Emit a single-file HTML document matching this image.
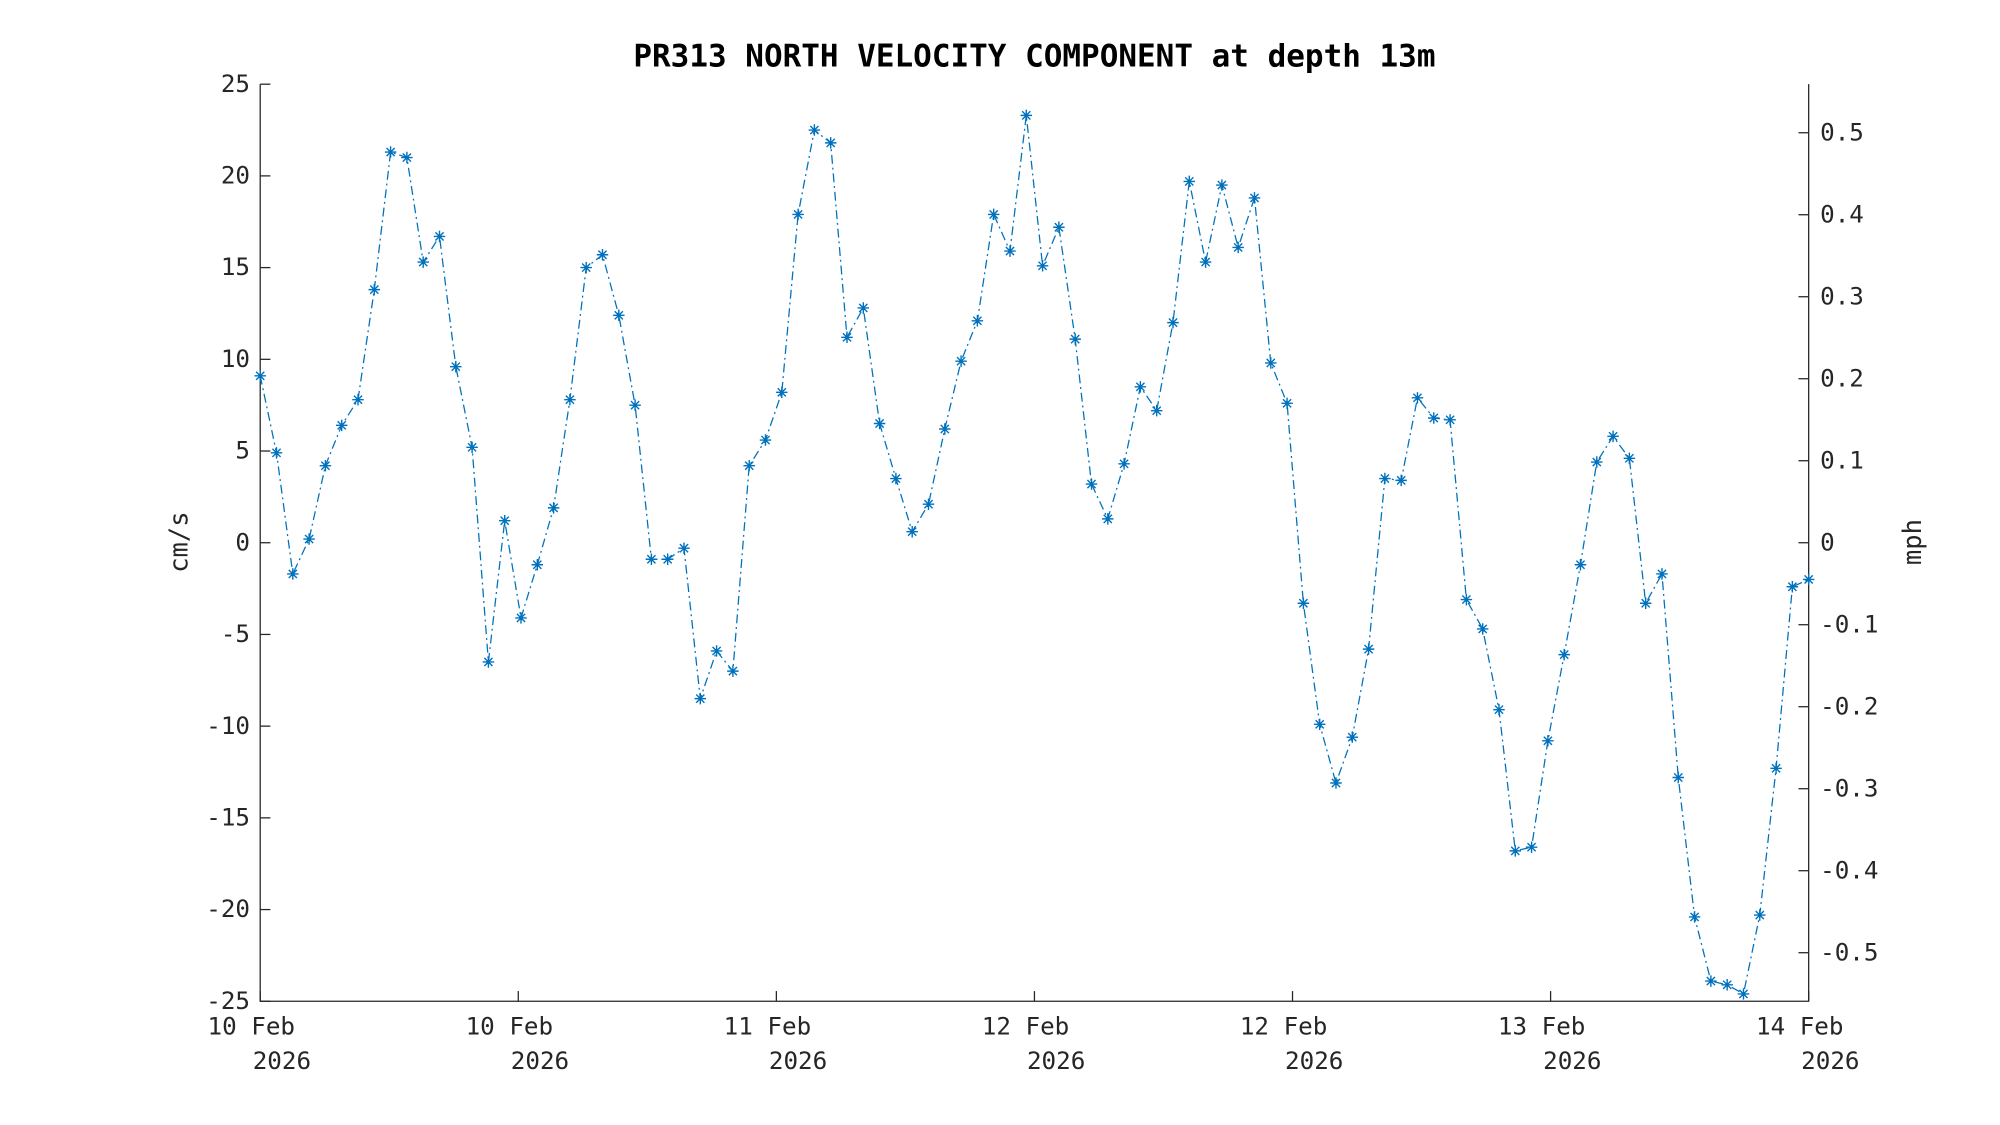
<!DOCTYPE html>
<html><head><meta charset="utf-8"><style>html,body{margin:0;padding:0;background:#fff}svg{display:block}</style></head>
<body>
<svg id="s" width="2000" height="1125" viewBox="0 0 1568 882" xmlns="http://www.w3.org/2000/svg" font-family="'DejaVu Sans Mono','Liberation Mono',monospace">
<rect width="1568" height="882" fill="#fff"/>
<text x="811" y="52" text-anchor="middle" font-size="24.3" font-weight="bold" fill="#000">PR313 NORTH VELOCITY COMPONENT at depth 13m</text>
<g id="ax" stroke="#262626" stroke-width="1" fill="none"></g>
<g id="lbl" font-size="19" fill="#262626"></g>
<text transform="translate(147,425) rotate(-90)" text-anchor="middle" font-size="20" fill="#262626">cm/s</text>
<text transform="translate(1506,425) rotate(-90)" text-anchor="middle" font-size="20" fill="#262626">mph</text>
<g id="data"></g>
</svg>
<script>
var NS="http://www.w3.org/2000/svg";
function el(p,t,a,txt){var e=document.createElementNS(NS,t);for(var k in a)e.setAttribute(k,a[k]);if(txt!=null)e.textContent=txt;document.getElementById(p).appendChild(e);return e;}
var L=204,R=1418,T=66,B=785;
function Y(v){return T+(25-v)/50*(B-T);}
el("ax","path",{d:"M"+L+","+T+"V"+B+"H"+R+"V"+T});
for(var v=-25;v<=25;v+=5){var y=Y(v);el("ax","path",{d:"M"+L+","+y+"h8"});
el("lbl","text",{x:196,y:y+6,"text-anchor":"end"},String(v));}
for(var k=-5;k<=5;k++){var y=Y(k*0.1/0.022369);el("ax","path",{d:"M"+R+","+y+"h-8"});
var s=k==0?"0":(k<0?"-":"")+"0."+Math.abs(k);el("lbl","text",{x:1427,y:y+6},s);}
var days=["10 Feb","10 Feb","11 Feb","12 Feb","12 Feb","13 Feb","14 Feb"];
for(var i=0;i<7;i++){var x=L+(R-L)*i/6;el("ax","path",{d:"M"+x+","+B+"v-8"});
el("lbl","text",{x:x-7,y:811,"text-anchor":"middle"},days[i]);
el("lbl","text",{x:x+17,y:838,"text-anchor":"middle"},"2026");}
var d=[9.1,4.9,-1.7,0.2,4.2,6.4,7.8,13.8,21.3,21.0,15.3,16.7,9.6,5.2,-6.5,1.2,-4.1,-1.2,1.9,7.8,15.0,15.7,12.4,7.5,-0.9,-0.9,-0.3,-8.5,-5.9,-7.0,4.2,5.6,8.2,17.9,22.5,21.8,11.2,12.8,6.5,3.5,0.6,2.1,6.2,9.9,12.1,17.9,15.9,23.3,15.1,17.2,11.1,3.2,1.3,4.3,8.5,7.2,12.0,19.7,15.3,19.5,16.1,18.8,9.8,7.6,-3.3,-9.9,-13.1,-10.6,-5.8,3.5,3.4,7.9,6.8,6.7,-3.1,-4.7,-9.1,-16.8,-16.6,-10.8,-6.1,-1.2,4.4,5.8,4.6,-3.3,-1.7,-12.8,-20.4,-23.9,-24.1,-24.6,-20.3,-12.3,-2.4,-2.0];
var n=d.length,pts=[],mk="";
for(var i=0;i<n;i++){var x=L+(R-L)*i/(n-1),y=Y(d[i]);pts.push(x.toFixed(2)+","+y.toFixed(2));
var r=4.5,q=3.2;mk+="M"+(x-r)+","+y+"h"+(2*r)+"M"+x+","+(y-r)+"v"+(2*r)+"M"+(x-q)+","+(y-q)+"l"+(2*q)+","+(2*q)+"M"+(x-q)+","+(y+q)+"l"+(2*q)+","+(-2*q);}
el("data","polyline",{points:pts.join(" "),fill:"none",stroke:"#0072BD","stroke-width":1,"stroke-dasharray":"7 3 1.5 3"});
el("data","path",{d:mk,fill:"none",stroke:"#0072BD","stroke-width":1.1});
</script>
</body></html>
